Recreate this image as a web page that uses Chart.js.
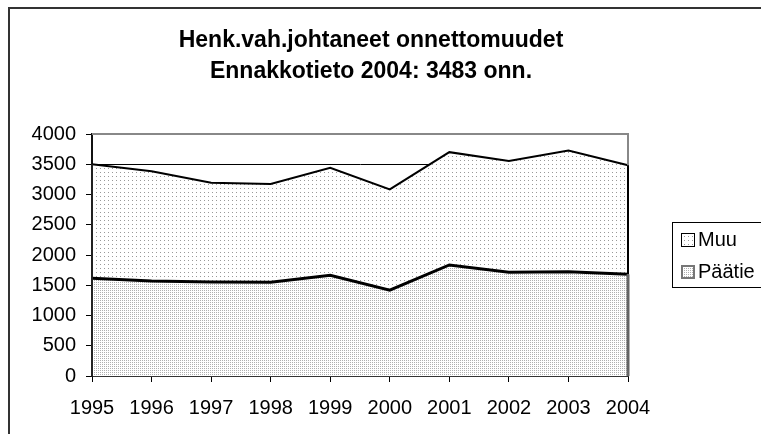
<!DOCTYPE html>
<html>
<head>
<meta charset="utf-8">
<script src="https://cdn.jsdelivr.net/npm/chart.js@4/dist/chart.umd.min.js"></script>
<style>
  html, body { margin: 0; padding: 0; background: #fff; }
  #wrap { width: 761px; height: 434px; }
</style>
</head>
<body>
<div id="wrap"><canvas id="myChart" width="761" height="434"></canvas></div>
<script>
const years = ['1995', '1996', '1997', '1998', '1999', '2000', '2001', '2002', '2003', '2004'];
const paatie = [1615, 1570, 1555, 1550, 1665, 1420, 1835, 1715, 1725, 1680];
const muu = [1885, 1815, 1640, 1625, 1778, 1665, 1865, 1840, 2000, 1803];
const titleLines = ['Henk.vah.johtaneet onnettomuudet', 'Ennakkotieto 2004: 3483 onn.'];
const FONT = "'Liberation Sans', Arial, sans-serif";

// dotted fills like the old excel patterns
function makePattern(size, dots, color) {
  const c = document.createElement('canvas');
  c.width = size; c.height = size;
  const g = c.getContext('2d');
  g.fillStyle = '#fff';
  g.fillRect(0, 0, size, size);
  g.fillStyle = color;
  dots.forEach(d => g.fillRect(d[0], d[1], 1, 1));
  return g.createPattern(c, 'repeat');
}
const ctxEl = document.getElementById('myChart');
const muuFill = makePattern(4, [[0, 0]], '#999');
const paaFill = makePattern(2, [[0, 0]], '#b0b0b0');

const extras = {
  id: 'extras',
  beforeDraw(chart) {
    const c = chart.ctx;
    c.save();
    c.fillStyle = '#fff';
    c.fillRect(0, 0, chart.width, chart.height);
    // outer frame (only top / left are inside the picture)
    c.strokeStyle = '#333';
    c.lineWidth = 2;
    c.beginPath();
    c.moveTo(9, 440); c.lineTo(9, 8); c.lineTo(770, 8);
    c.stroke();
    c.restore();
  },
  afterDatasetsDraw(chart) {
    const c = chart.ctx;
    const a = chart.chartArea;
    const x = chart.scales.x, y = chart.scales.y;
    c.save();
    c.strokeStyle = '#888';
    c.lineWidth = 2;
    c.beginPath();
    c.moveTo(a.left, a.top); c.lineTo(a.right, a.top); c.lineTo(a.right, a.bottom);
    c.stroke();
    // vertical edges of the areas
    const last = years.length - 1;
    const xr = x.getPixelForValue(last);
    const yp = y.getPixelForValue(paatie[last]);
    const yt = y.getPixelForValue(paatie[last] + muu[last]);
    c.strokeStyle = '#000';
    c.lineWidth = 2;
    c.beginPath(); c.moveTo(xr, yt); c.lineTo(xr, yp); c.stroke();
    c.strokeStyle = '#666';
    c.lineWidth = 3;
    c.beginPath(); c.moveTo(xr, yp); c.lineTo(xr, a.bottom); c.stroke();
    const xl = x.getPixelForValue(0);
    c.strokeStyle = '#222';
    c.lineWidth = 2;
    c.beginPath(); c.moveTo(xl, y.getPixelForValue(paatie[0] + muu[0])); c.lineTo(xl, a.bottom); c.stroke();
    c.restore();
  },
  afterDraw(chart) {
    const c = chart.ctx;
    c.save();
    // title
    c.fillStyle = '#000';
    c.font = 'bold 23px ' + FONT;
    c.textAlign = 'center';
    c.textBaseline = 'alphabetic';
    c.fillText(titleLines[0], 371, 47);
    c.fillText(titleLines[1], 371, 78);
    // legend (right side runs off the picture)
    c.strokeStyle = '#000';
    c.lineWidth = 1;
    c.strokeRect(672.5, 222.5, 120, 65);
    c.fillStyle = muuFill;
    c.fillRect(681, 233, 13, 13);
    c.strokeRect(681.5, 233.5, 13, 13);
    c.fillStyle = paaFill;
    c.fillRect(681, 265, 13, 13);
    c.strokeStyle = '#777';
    c.lineWidth = 2;
    c.strokeRect(682, 266, 12, 12);
    c.fillStyle = '#000';
    c.font = '20px ' + FONT;
    c.textAlign = 'left';
    c.textBaseline = 'middle';
    c.fillText('Muu', 698, 240);
    c.fillText('Päätie', 698, 272);
    c.restore();
  }
};

new Chart(ctxEl, {
  type: 'line',
  data: {
    labels: years,
    datasets: [
      {
        label: 'Päätie',
        data: paatie,
        fill: 'origin',
        backgroundColor: paaFill,
        borderColor: '#000',
        borderWidth: 3,
        pointRadius: 0,
        tension: 0
      },
      {
        label: 'Muu',
        data: muu,
        fill: '-1',
        backgroundColor: muuFill,
        borderColor: '#000',
        borderWidth: 2,
        pointRadius: 0,
        tension: 0
      }
    ]
  },
  options: {
    responsive: false,
    animation: false,
    layout: { padding: { top: 134, right: 133, bottom: 0, left: 0 } },
    plugins: {
      legend: { display: false },
      title: { display: false },
      tooltip: { enabled: false }
    },
    scales: {
      x: {
        offset: false,
        afterFit(s) { s.height = 58; },
        border: { color: '#333', width: 2 },
        grid: { drawOnChartArea: false, color: '#000', tickLength: 6 },
        ticks: { color: '#000', font: { family: FONT, size: 20 }, padding: 14, maxRotation: 0, autoSkip: false }
      },
      y: {
        stacked: true,
        min: 0,
        max: 4000,
        afterFit(s) { s.width = 92; },
        border: { color: '#111', width: 2 },
        grid: {
          color: c => (c.tick && c.tick.value === 3500) ? '#000' : 'rgba(0,0,0,0)',
          tickColor: '#000',
          tickLength: 6
        },
        ticks: {
          stepSize: 500,
          color: '#000',
          font: { family: FONT, size: 20 },
          padding: 10,
          callback: v => String(v)
        }
      }
    }
  },
  plugins: [extras]
});
</script>
</body>
</html>
